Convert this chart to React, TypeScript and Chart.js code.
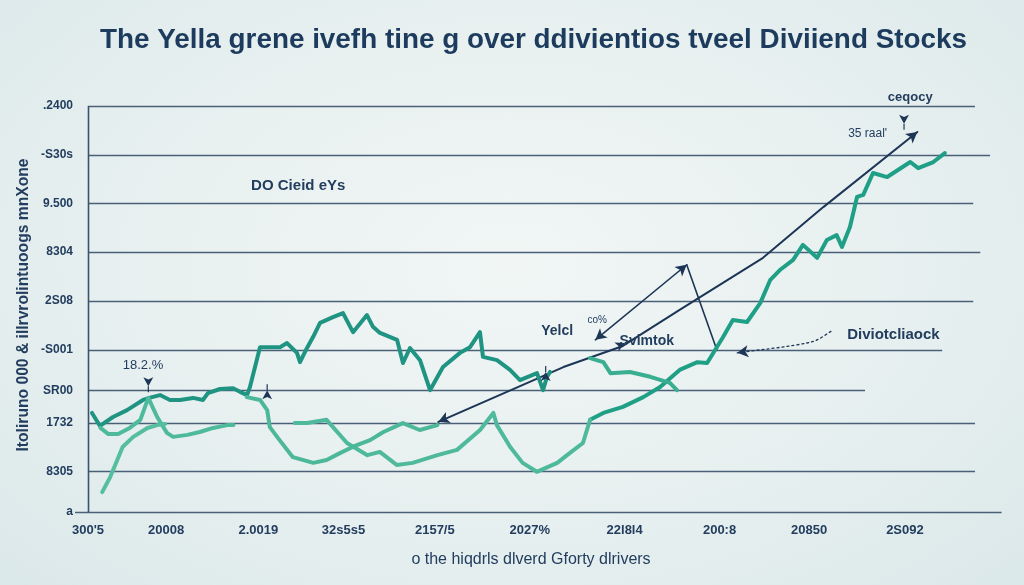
import React, { useEffect, useRef } from "react";
import { Chart, registerables } from "chart.js";
Chart.register(...registerables);

// ---------- text ----------
const titleText = "The Yella grene ivefh tine g over ddivientios tveel Diviiend Stocks";
const xTitleText = "o the hiqdrls dlverd Gforty dlrivers";
const yTitleText = "Itoliruno 000 & illrvrolintuoogs mnXone";

// ---------- axes ----------
const xTickValues = [0, 8.8, 19.2, 28.8, 39.1, 49.8, 60.5, 71.2, 81.3, 92.1];
const xTickLabels = ["300'5", "20008", "2.0019", "32s5s5", "2157/5", "2027%", "22l8l4", "200:8", "20850", "2S092"];
const yTickValues = [0, 10, 22, 30, 40, 52, 64, 76, 88, 100];
const yTickLabels = ["a", "8305", "1732", "SR00", "-S001", "2S08", "8304", "9.500", "-S30s", ".2400"];

// ---------- series (x, y) ----------
const upperSeries: [number, number][] = [
  [0.45, 24.4], [1.35, 21.2], [2.82, 23.4], [4.4, 25.1], [6.2, 27.6], [7.22, 28.3], [8.12, 28.8],
  [9.24, 27.6], [10.37, 27.6], [11.84, 28.1], [12.97, 27.6], [13.53, 29.3], [14.88, 30.3],
  [16.35, 30.5], [17.14, 29.6], [17.93, 28.8], [18.26, 30.8], [19.39, 40.6], [21.65, 40.6],
  [22.44, 41.6], [23.56, 39.2], [23.9, 36.9], [24.69, 40.4], [25.37, 43.1], [26.16, 46.6],
  [27.62, 48.0], [28.75, 49.0], [29.88, 44.3], [31.45, 48.5], [32.13, 45.6], [32.92, 44.1],
  [34.84, 42.4], [35.51, 36.7], [36.3, 40.4], [37.43, 37.4], [38.56, 30.0], [40.02, 35.7],
  [41.94, 39.2], [43.07, 40.6], [44.19, 44.3], [44.53, 38.2], [46.11, 37.4], [47.58, 35.0],
  [48.7, 32.5], [50.62, 34.2], [51.3, 30.0], [51.75, 33.3], [52.09, 34.5],
];
const peakSeries: [number, number][] = [
  [1.4, 20.7], [2.3, 19.2], [3.4, 19.2], [4.7, 20.7], [5.9, 22.7], [6.8, 28.1], [7.8, 23.4],
  [8.9, 19.5], [9.6, 18.5], [11.2, 19.0], [12.6, 19.7], [14.1, 20.7], [15.7, 21.4], [16.4, 21.4],
];
const riseSeries: [number, number][] = [
  [1.6, 4.9], [2.5, 8.6], [3.3, 12.8], [3.9, 16.0], [5.1, 18.5], [6.7, 20.7], [7.8, 21.4], [8.7, 21.7],
];
const dropSeries: [number, number][] = [
  [17.9, 28.3], [19.4, 27.6], [20.2, 25.1], [20.5, 20.9], [21.6, 17.7], [23.1, 13.5], [25.4, 12.1],
  [26.9, 12.8], [28.4, 14.5], [30.3, 16.5], [31.8, 17.7], [33.3, 19.7], [35.5, 21.9], [37.4, 20.2],
  [39.4, 21.4],
];
const lowSeries: [number, number][] = [
  [23.3, 21.9], [24.7, 21.9], [26.9, 22.7], [29.2, 17.0], [31.5, 14.0], [32.9, 14.8], [34.8, 11.6],
  [36.6, 12.1], [39.4, 14.0], [41.6, 15.3], [44.2, 20.2], [45.7, 24.4], [46.1, 21.4], [47.6, 16.0],
  [49.0, 12.1], [50.6, 9.9], [52.9, 12.1], [54.3, 14.5], [55.8, 17.0], [56.6, 22.7],
];
const dividendSeries: [number, number][] = [
  [56.6, 22.7], [58.1, 24.4], [60.3, 25.9], [62.6, 28.3], [64.5, 30.8], [66.7, 35.0], [68.7, 36.9],
  [69.8, 36.7], [70.7, 39.9], [71.6, 43.1], [72.7, 47.3], [74.3, 46.8], [75.8, 51.5], [76.9, 57.1],
  [78.0, 59.6], [79.5, 62.1], [80.6, 65.8], [82.2, 62.6], [83.3, 67.0], [84.4, 68.2], [85.0, 65.3],
  [85.9, 70.2], [86.7, 77.6], [87.4, 78.1], [88.5, 83.5], [90.1, 82.5], [92.7, 86.2], [93.6, 84.7],
  [95.3, 86.2], [96.6, 88.4],
];
const svimtokSeries: [number, number][] = [
  [56.6, 37.9], [58.1, 36.9], [58.9, 34.2], [61.1, 34.5], [63.4, 33.3], [65.6, 31.8], [66.4, 30.0],
];
const trendLine: [number, number][] = [
  [39.5, 22.2], [53.6, 35.7], [60.3, 40.9], [66.7, 49.8], [76.1, 62.6], [82.9, 75.1], [93.5, 93.6],
];
const yieldArrow: [number, number][] = [[57.2, 42.4], [67.5, 60.9]];
const stockArrow: [number, number][] = [[67.5, 60.9], [70.9, 39.9]];
const dottedArrow: [number, number][] = [[73.2, 39.2], [81.6, 41.9], [84.0, 44.8]];

// ---------- annotations ----------
const notes = [
  { text: "DO Cieid eYs", x: 23.7, y: 80.3, size: 15, weight: "bold" },
  { text: "18.2.%", x: 6.2, y: 36.0, size: 13, weight: "normal" },
  { text: "Yelcl", x: 52.9, y: 44.6, size: 14, weight: "bold" },
  { text: "co%", x: 57.4, y: 47.3, size: 10, weight: "normal" },
  { text: "Svimtok", x: 63.0, y: 42.1, size: 14, weight: "bold" },
  { text: "Diviotcliaock", x: 90.8, y: 43.6, size: 15, weight: "bold" },
  { text: "ceqocy", x: 92.7, y: 102.0, size: 13, weight: "bold" },
  { text: "35 raal'", x: 87.9, y: 93.3, size: 12, weight: "normal" },
];
const markers = [
  { x: 6.8, y: 31.0, angle: 90 },
  { x: 20.2, y: 30.0, angle: -90 },
  { x: 92.0, y: 95.6, angle: 90 },
  { x: 51.6, y: 34.5, angle: -90 },
  { x: 60.5, y: 41.6, angle: -25 },
];
const gridEnds = [103, 100, 100, 87.6, 96.3, 99.8, 100.6, 99.8, 101.7, 100];

const NAVY = "#1d3656";
const TEXT = "#223d5e";
const FONT = '"Liberation Sans Narrow", "Liberation Sans", Arial, sans-serif';

function tri(ctx: CanvasRenderingContext2D, x: number, y: number, ang: number, size: number) {
  ctx.save();
  ctx.translate(x, y);
  ctx.rotate(ang);
  ctx.beginPath();
  ctx.moveTo(0, 0);
  ctx.lineTo(-size, -size * 0.55);
  ctx.lineTo(-size * 0.75, 0);
  ctx.lineTo(-size, size * 0.55);
  ctx.closePath();
  ctx.fill();
  ctx.restore();
}

const decorPlugin = {
  id: "decor",
  beforeDatasetsDraw(chart: any) {
    const { ctx, scales } = chart;
    const xs = scales.x, ys = scales.y;
    ctx.save();
    ctx.strokeStyle = "#4a6079";
    ctx.lineWidth = 1.4;
    yTickValues.forEach((v, i) => {
      const py = Math.round(ys.getPixelForValue(v)) + 0.5;
      ctx.beginPath();
      ctx.moveTo(v === 0 ? xs.left - 13 : xs.left, py);
      ctx.lineTo(xs.getPixelForValue(gridEnds[i]), py);
      ctx.stroke();
    });
    ctx.strokeStyle = "#3a526d";
    ctx.lineWidth = 1.6;
    ctx.beginPath();
    ctx.moveTo(xs.left + 0.5, ys.top);
    ctx.lineTo(xs.left + 0.5, ys.bottom);
    ctx.stroke();
    ctx.restore();
  },
  afterDatasetsDraw(chart: any) {
    const { ctx, scales } = chart;
    const xs = scales.x, ys = scales.y;
    ctx.save();
    ctx.fillStyle = NAVY;
    chart.data.datasets.forEach((ds: any, di: number) => {
      if (!ds.arrow) return;
      const pts = chart.getDatasetMeta(di).data;
      const n = pts.length;
      if (ds.arrow === "end" || ds.arrow === "both") {
        const a = Math.atan2(pts[n - 1].y - pts[n - 2].y, pts[n - 1].x - pts[n - 2].x);
        tri(ctx, pts[n - 1].x, pts[n - 1].y, a, 11);
      }
      if (ds.arrow === "start" || ds.arrow === "both") {
        const a = Math.atan2(pts[0].y - pts[1].y, pts[0].x - pts[1].x);
        tri(ctx, pts[0].x, pts[0].y, a, 11);
      }
    });
    markers.forEach((m) => {
      const px = xs.getPixelForValue(m.x), py = ys.getPixelForValue(m.y);
      const a = (m.angle * Math.PI) / 180;
      ctx.strokeStyle = NAVY;
      ctx.lineWidth = 1.2;
      ctx.beginPath();
      ctx.moveTo(px, py);
      ctx.lineTo(px + Math.cos(a) * 6, py + Math.sin(a) * 6);
      ctx.stroke();
      tri(ctx, px, py, a, 9);
    });
    ctx.restore();
  },
  afterDraw(chart: any) {
    const { ctx, scales } = chart;
    const xs = scales.x, ys = scales.y;
    ctx.save();
    ctx.fillStyle = "#1c3b5d";
    ctx.textAlign = "left";
    ctx.textBaseline = "alphabetic";
    ctx.font = `bold 28px ${FONT}`;
    ctx.fillText(titleText, 100, 48, 867);

    ctx.fillStyle = TEXT;
    ctx.textAlign = "center";
    ctx.font = `16px ${FONT}`;
    ctx.fillText(xTitleText, 531, 564, 258);

    ctx.save();
    ctx.translate(28, 305);
    ctx.rotate(-Math.PI / 2);
    ctx.font = `bold 16px ${FONT}`;
    ctx.fillText(yTitleText, 0, 0, 293);
    ctx.restore();

    ctx.textBaseline = "middle";
    notes.forEach((n) => {
      ctx.font = `${n.weight} ${n.size}px ${FONT}`;
      ctx.fillStyle = TEXT;
      ctx.fillText(n.text, xs.getPixelForValue(n.x), ys.getPixelForValue(n.y));
    });
    ctx.restore();
  },
};

const toXY = (arr: [number, number][]) => arr.map(([x, y]) => ({ x, y }));

function line(data: [number, number][], color: string, width: number, extra: any = {}) {
  return {
    data: toXY(data),
    borderColor: color,
    borderWidth: width,
    pointRadius: 0,
    tension: 0,
    fill: false,
    borderJoinStyle: "round",
    borderCapStyle: "round",
    ...extra,
  };
}

export default function App() {
  const ref = useRef<HTMLCanvasElement>(null);
  useEffect(() => {
    if (!ref.current) return;
    const chart = new Chart(ref.current, {
      type: "line",
      data: {
        datasets: [
          line(riseSeries, "#55be9f", 4),
          line(peakSeries, "#4fba9b", 4),
          line(dropSeries, "#4db899", 4),
          line(lowSeries, "#4fba9b", 4),
          line(svimtokSeries, "#3aae90", 4),
          line(upperSeries, "#1f9482", 4),
          line(dividendSeries, "#1f9f86", 4),
          line(trendLine, NAVY, 2, { arrow: "both" }),
          line(yieldArrow, NAVY, 1.6, { arrow: "both" }),
          line(stockArrow, NAVY, 1.6),
          line(dottedArrow, NAVY, 1.3, { arrow: "start", borderDash: [2, 3], tension: 0.3 }),
        ] as any,
      },
      options: {
        animation: false,
        responsive: false,
        layout: { padding: { top: 106, right: 49, left: 0, bottom: 0 } },
        plugins: { legend: { display: false }, tooltip: { enabled: false }, title: { display: false } },
        scales: {
          x: {
            type: "linear",
            min: 0,
            max: 100,
            afterBuildTicks: (s: any) => {
              s.ticks = xTickValues.map((v) => ({ value: v }));
            },
            afterFit: (s: any) => {
              s.height = 73;
            },
            ticks: {
              autoSkip: false,
              maxRotation: 0,
              padding: 11,
              color: TEXT,
              font: { family: FONT, size: 13, weight: "bold" },
              callback: (_v: any, i: number) => xTickLabels[i],
            },
            grid: { display: false, drawTicks: false },
            border: { display: false },
          },
          y: {
            type: "linear",
            min: 0,
            max: 100,
            afterBuildTicks: (s: any) => {
              s.ticks = yTickValues.map((v) => ({ value: v }));
            },
            afterFit: (s: any) => {
              s.width = 88;
            },
            ticks: {
              autoSkip: false,
              padding: 15,
              color: TEXT,
              font: { family: FONT, size: 12, weight: "bold" },
              callback: (_v: any, i: number) => yTickLabels[i],
            },
            grid: { display: false, drawTicks: false },
            border: { display: false },
          },
        },
      } as any,
      plugins: [decorPlugin],
    });
    return () => chart.destroy();
  }, []);

  return (
    <div
      style={{
        position: "fixed",
        left: 0,
        top: 0,
        width: 1024,
        height: 585,
        background: "radial-gradient(ellipse at 50% 45%, #f1f6f5 0%, #e6efef 60%, #dbe8e9 100%)",
      }}
    >
      <canvas ref={ref} width={1024} height={585} style={{ width: 1024, height: 585, display: "block" }} />
    </div>
  );
}
